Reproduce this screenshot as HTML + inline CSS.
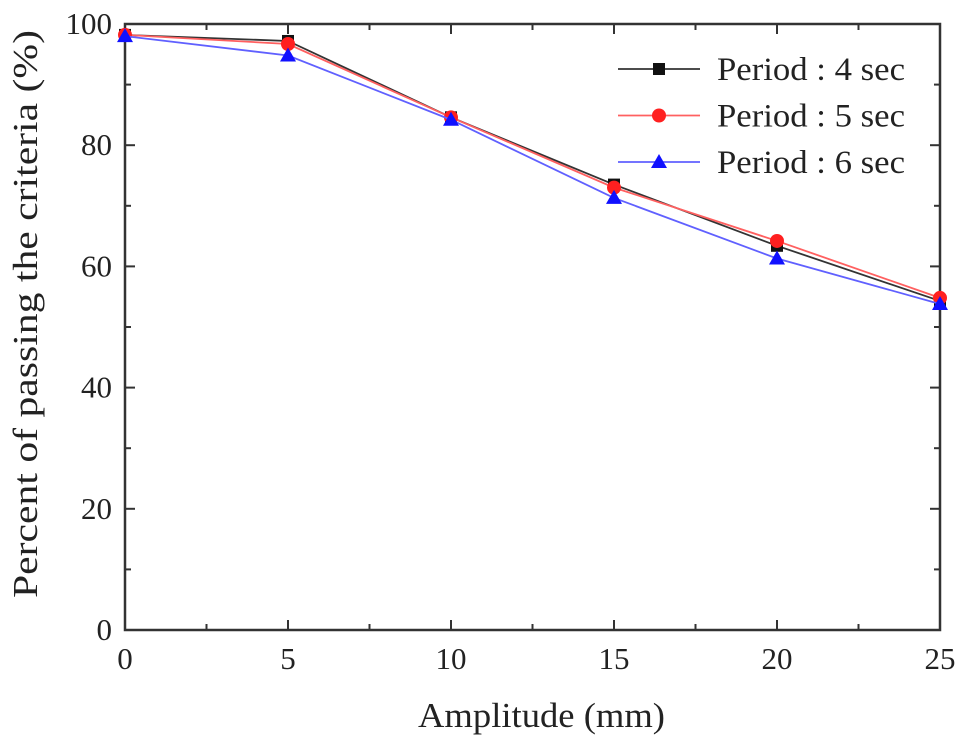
<!DOCTYPE html>
<html><head><meta charset="utf-8"><style>
html,body{margin:0;padding:0;background:#fff;}
svg text{font-family:"Liberation Serif",serif;fill:#222;}
</style></head><body>
<svg id="chart" width="969" height="745" viewBox="0 0 969 745" xmlns="http://www.w3.org/2000/svg">
<g id="axes"></g>
<g id="series"></g>
<g id="legend"></g>
<text x="418" y="727" font-size="35" textLength="247" lengthAdjust="spacingAndGlyphs">Amplitude (mm)</text>
<text transform="translate(37,598) rotate(-90)" font-size="35" textLength="568" lengthAdjust="spacingAndGlyphs">Percent of passing the criteria (%)</text>
</svg>
<script>
const categories=[0,5,10,15,20,25];
const period4=[98.2,97.2,84.6,73.5,63.4,54.3];
const period5=[98.2,96.7,84.6,73.0,64.2,54.8];
const period6=[98.0,94.8,84.2,71.3,61.3,53.8];
const xTicks=[0,5,10,15,20,25];
const yTicks=[0,20,40,60,80,100];
const seriesNames=["Period : 4 sec","Period : 5 sec","Period : 6 sec"];

const L=125,R=940,T=24,B=630;
const xs=v=>L+(v-0)/25*(R-L);
const ys=v=>B-(v-0)/100*(B-T);
const NS="http://www.w3.org/2000/svg";
function mk(tag,attrs,parent){const e=document.createElementNS(NS,tag);for(const k in attrs)e.setAttribute(k,attrs[k]);parent.appendChild(e);return e;}
const axes=document.getElementById('axes');
let frame=mk('rect',{x:L,y:T,width:R-L,height:B-T,fill:'none',stroke:'#333','stroke-width':2.5},axes);


xTicks.forEach(t=>{
  const x=xs(t);
  mk('line',{x1:x,x2:x,y1:B,y2:B-10,stroke:'#333','stroke-width':2},axes);
  mk('line',{x1:x,x2:x,y1:T,y2:T+10,stroke:'#333','stroke-width':2},axes);
  const tx=mk('text',{x:x,y:B+39,'font-size':31,'text-anchor':'middle'},axes);tx.textContent=t;
  
  
});
for(let t=2.5;t<25;t+=5){const x=xs(t);
  mk('line',{x1:x,x2:x,y1:B,y2:B-6,stroke:'#333','stroke-width':2},axes);
  mk('line',{x1:x,x2:x,y1:T,y2:T+6,stroke:'#333','stroke-width':2},axes);}
yTicks.forEach(t=>{
  const y=ys(t);
  mk('line',{x1:L,x2:L+10,y1:y,y2:y,stroke:'#333','stroke-width':2},axes);
  mk('line',{x1:R,x2:R-10,y1:y,y2:y,stroke:'#333','stroke-width':2},axes);
  const tx=mk('text',{x:L-13,y:y+10,'font-size':31,'text-anchor':'end'},axes);tx.textContent=t;
  
  
});
for(let t=10;t<100;t+=20){const y=ys(t);
  mk('line',{x1:L,x2:L+6,y1:y,y2:y,stroke:'#333','stroke-width':2},axes);
  mk('line',{x1:R,x2:R-6,y1:y,y2:y,stroke:'#333','stroke-width':2},axes);}

const colors=['#111','#ff2020','#1010ff'];
const lineColors=['#333','#ff6060','#6060ff'];
const shapes=['square','circle','triangle'];
const sg=document.getElementById('series');
function marker(shape,x,y,c,parent){
  if(shape==='square')return mk('rect',{x:x-6,y:y-6,width:12,height:12,fill:c},parent);
  if(shape==='circle')return mk('circle',{cx:x,cy:y,r:7,fill:c},parent);
  return mk('polygon',{points:`${x},${y-8} ${x-8},${y+6} ${x+8},${y+6}`,fill:c},parent);
}
[period4,period5,period6].forEach((vals,i)=>{
  const g=mk('g',{},sg);
  
  
  const pts=vals.map((v,j)=>xs(categories[j])+','+ys(v)).join(' ');
  mk('polyline',{points:pts,fill:'none',stroke:lineColors[i],'stroke-width':1.8},g);
  vals.forEach((v,j)=>{const m=marker(shapes[i],xs(categories[j]),ys(v),colors[i],g);
    
    });
});
const lg=document.getElementById('legend');
seriesNames.forEach((n,i)=>{
  const y=69+i*46.5;
  const g=mk('g',{},lg);
  
  
  mk('line',{x1:618,x2:700,y1:y,y2:y,stroke:lineColors[i],'stroke-width':1.8},g);
  marker(shapes[i],659,y,colors[i],g);
  const t=mk('text',{x:717,y:y+11,'font-size':33,textLength:188,lengthAdjust:'spacingAndGlyphs'},g);t.textContent=n;
});
</script>
</body></html>
